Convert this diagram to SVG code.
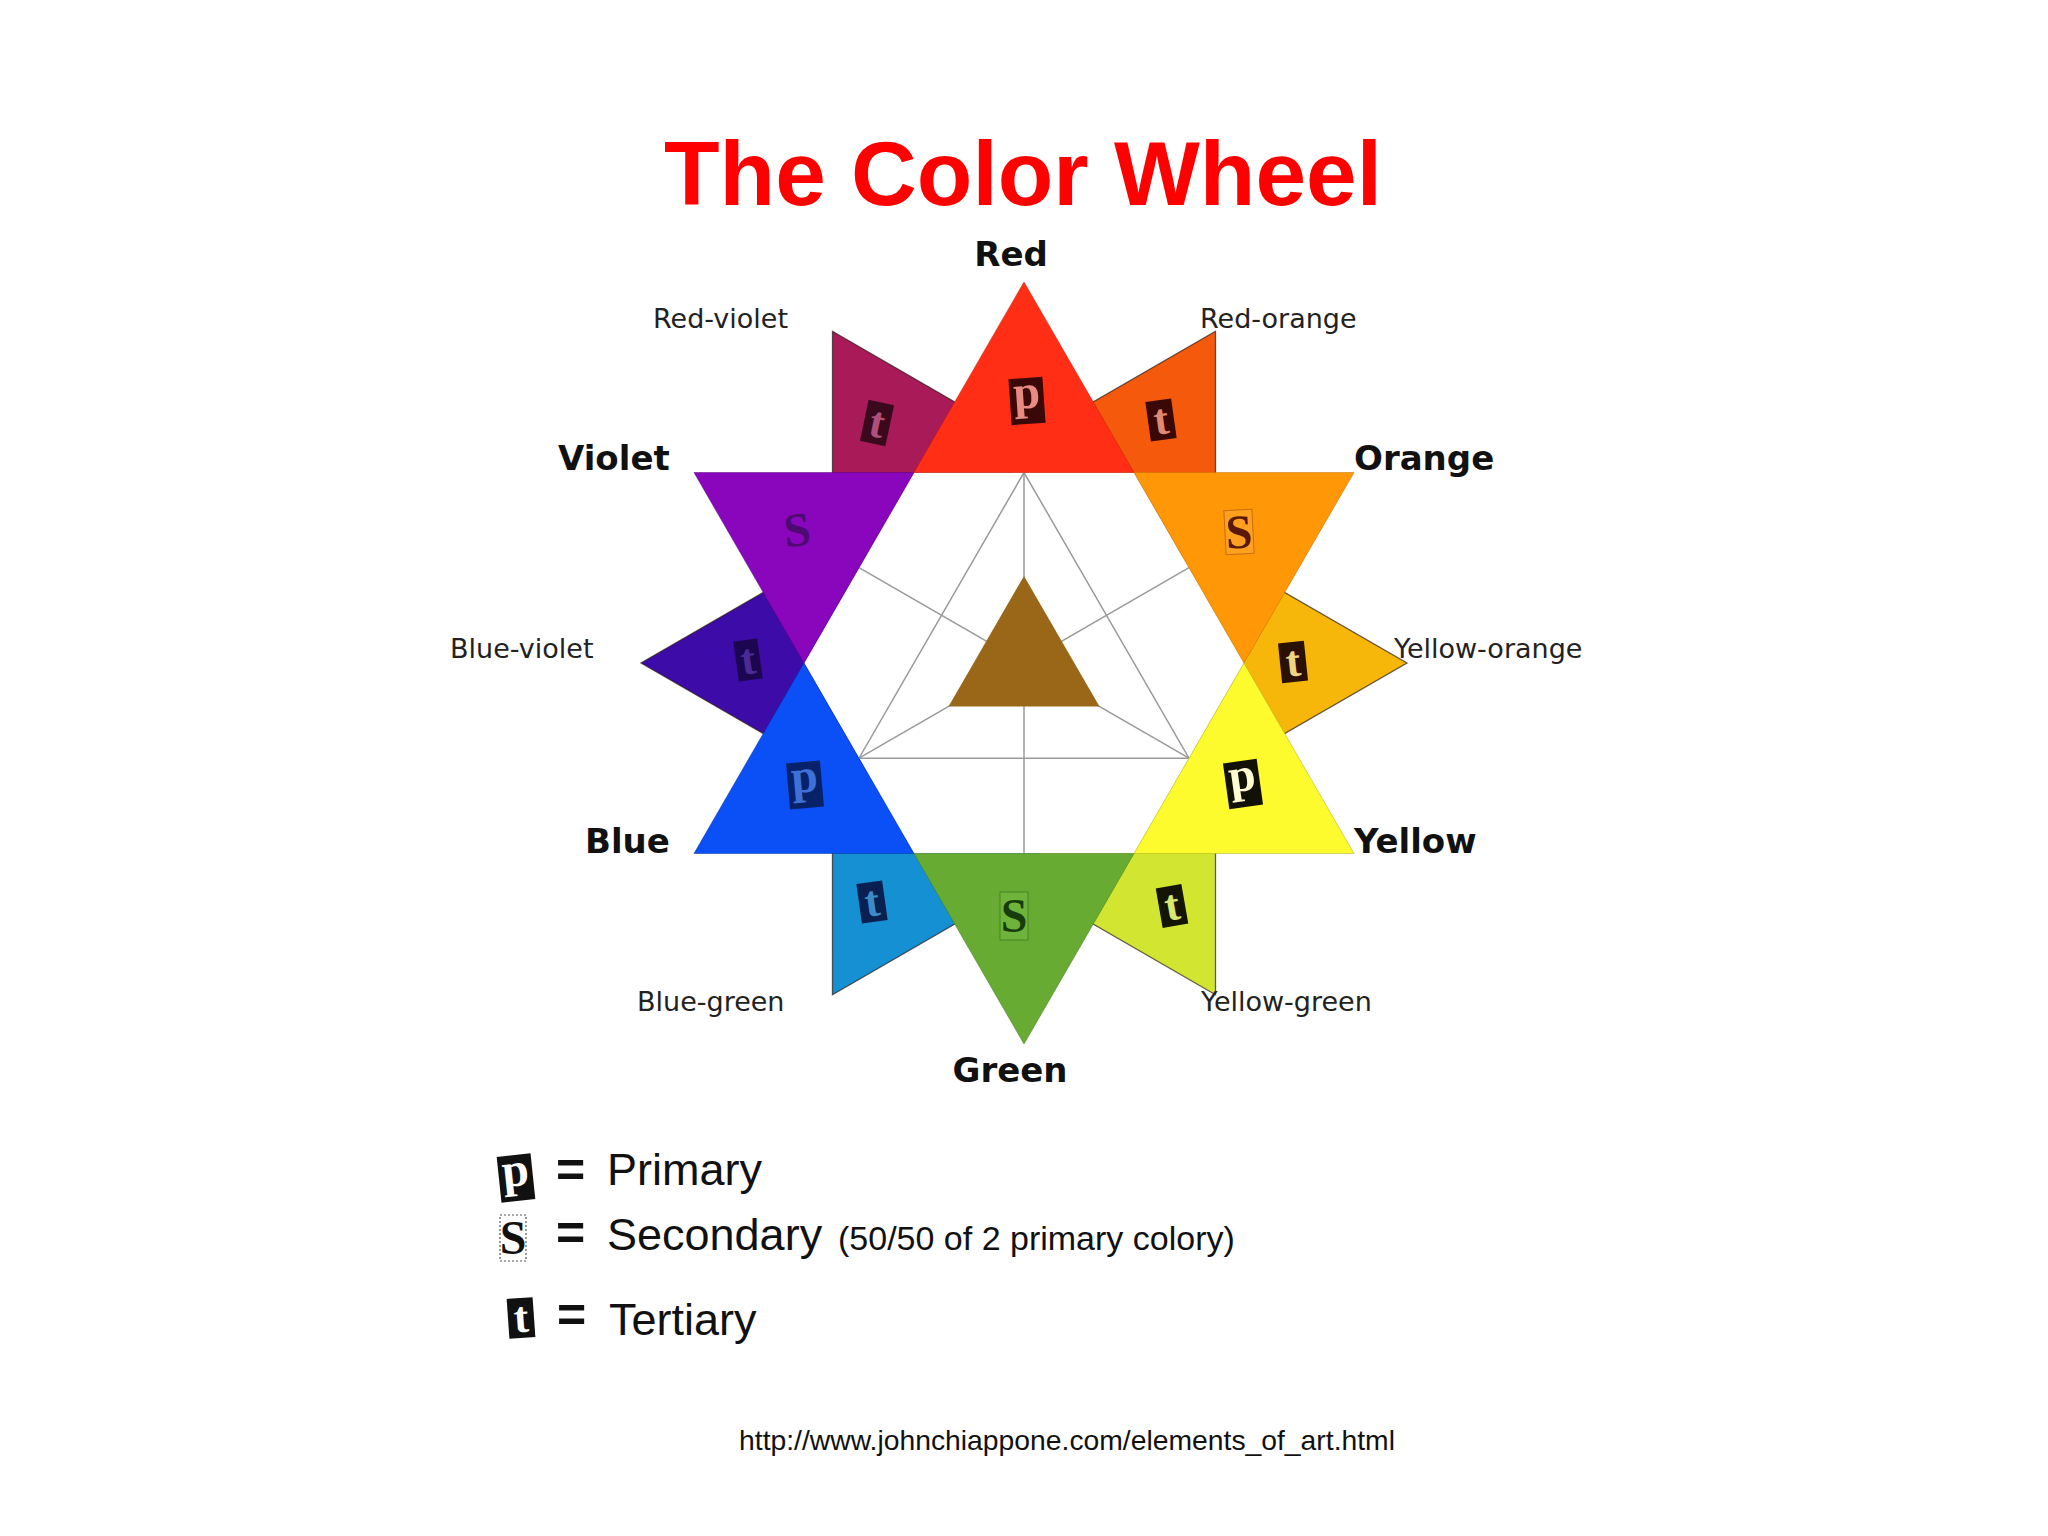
<svg xmlns="http://www.w3.org/2000/svg" xmlns:xlink="http://www.w3.org/1999/xlink" width="2048" height="1536" viewBox="0 0 2048 1536">
<style>
.title{font-family:"Liberation Sans",Arial,sans-serif;font-weight:bold;font-size:91px;fill:#ff0000;text-anchor:middle}
.lb{font-family:"DejaVu Sans",Verdana,sans-serif;font-weight:bold;font-size:34px;fill:#111}
.lr{font-family:"DejaVu Sans",Verdana,sans-serif;font-size:27px;fill:#222}
.tile{stroke:none}
.ltr{font-family:"Liberation Serif","Times New Roman",serif;font-weight:bold;text-anchor:middle}
.leg{font-family:"Liberation Sans",Arial,sans-serif;fill:#111}
.wedge{stroke:#2a1a1a;stroke-width:1.3;stroke-opacity:0.7}
.tri{stroke-width:1;stroke-opacity:0.5}
.grid{stroke:#9a9a9a;stroke-width:1.5;fill:none}
</style>
<defs>
<polygon id="wedge" points="832.5,331.3 832.5,591.3 1057.7,461.3"/>
</defs>
<rect width="2048" height="1536" fill="#ffffff"/>
<text class="title" x="1023" y="205">The Color Wheel</text>

<!-- tertiary colors -->
<g id="red-violet">
<use xlink:href="#wedge" class="wedge" fill="#a81a58"/>
<g transform="translate(877,423) rotate(12)"><rect class="tile" x="-13" y="-21" width="26" height="42" fill="#3a0a1c"/><text class="ltr" x="0" y="14" font-size="44" fill="#b0507a">t</text></g>
<text class="lr" x="653" y="328">Red-violet</text>
</g>
<g id="red-orange">
<use xlink:href="#wedge" class="wedge" fill="#f55a0c" transform="rotate(60 1024 663)"/>
<g transform="translate(1161,420) rotate(-8)"><rect class="tile" x="-13" y="-20" width="26" height="40" fill="#3a0806"/><text class="ltr" x="0" y="14" font-size="44" fill="#e08a70">t</text></g>
<text class="lr" x="1200" y="328">Red-orange</text>
</g>
<g id="yellow-orange">
<use xlink:href="#wedge" class="wedge" fill="#f6b70a" transform="rotate(120 1024 663)"/>
<g transform="translate(1293,662) rotate(-6)"><rect class="tile" x="-13" y="-20" width="26" height="40" fill="#2a1005"/><text class="ltr" x="0" y="14" font-size="44" fill="#f0d480">t</text></g>
<text class="lr" x="1394" y="658">Yellow-orange</text>
</g>
<g id="yellow-green">
<use xlink:href="#wedge" class="wedge" fill="#d2e631" transform="rotate(180 1024 663)"/>
<g transform="translate(1172,906) rotate(-10)"><rect class="tile" x="-13" y="-20" width="26" height="40" fill="#151505"/><text class="ltr" x="0" y="14" font-size="44" fill="#d8e870">t</text></g>
<text class="lr" x="1201" y="1011">Yellow-green</text>
</g>
<g id="blue-green">
<use xlink:href="#wedge" class="wedge" fill="#1590d2" transform="rotate(240 1024 663)"/>
<g transform="translate(872,902) rotate(-8)"><rect class="tile" x="-13" y="-20" width="26" height="40" fill="#0a2050"/><text class="ltr" x="0" y="14" font-size="44" fill="#3a8cc8">t</text></g>
<text class="lr" x="637" y="1011">Blue-green</text>
</g>
<g id="blue-violet">
<use xlink:href="#wedge" class="wedge" fill="#3c0ba8" transform="rotate(300 1024 663)"/>
<g transform="translate(748,660) rotate(-8)"><rect class="tile" x="-12" y="-20" width="24" height="40" fill="#1c0650"/><text class="ltr" x="0" y="14" font-size="44" fill="#4a2a98">t</text></g>
<text class="lr" x="450" y="658">Blue-violet</text>
</g>

<!-- center -->
<g id="center">
<polygon points="914,472.5 1134,472.5 1244,663 1134,853.5 914,853.5 804,663" fill="#ffffff"/>
<g class="grid">
<polygon points="1024,472.5 859,758.2 1189,758.2"/>
<line x1="1024" y1="472.5" x2="1024" y2="853.5"/>
<line x1="859" y1="567.7" x2="1189" y2="758.2"/>
<line x1="1189" y1="567.7" x2="859" y2="758.2"/>
</g>
<polygon points="1024,576 1099.5,706.5 948.5,706.5" fill="#9a6718"/>
</g>

<!-- primaries and secondaries -->
<g id="red">
<polygon class="tri" points="914,472.5 1134,472.5 1024,282" fill="#ff2e14" stroke="#c02010"/>
<g transform="translate(1027,401) rotate(-4)"><rect class="tile" x="-17" y="-23" width="34" height="46" fill="#3b0808"/><text class="ltr" x="0" y="7" font-size="48" fill="#e88a82">p</text></g>
<text class="lb" x="1011" y="266" text-anchor="middle">Red</text>
</g>
<g id="orange">
<polygon class="tri" points="1134,472.5 1354,472.5 1244,663" fill="#ff9707" stroke="#c07000"/>
<g transform="translate(1239,532) rotate(-3)"><rect x="-14" y="-22" width="28" height="44" fill="#ffa020" stroke="#a05010" stroke-width="1" stroke-opacity="0.6"/><text class="ltr" x="0" y="16" font-size="48" fill="#5a1a0a" font-weight="normal">S</text></g>
<text class="lb" x="1354" y="470">Orange</text>
</g>
<g id="yellow">
<polygon class="tri" points="1244,663 1354,853.5 1134,853.5" fill="#fdfb2e" stroke="#b0a820"/>
<g transform="translate(1243,784) rotate(-8)"><rect class="tile" x="-17" y="-23" width="34" height="46" fill="#111108"/><text class="ltr" x="0" y="7" font-size="48" fill="#fffbd0">p</text></g>
<text class="lb" x="1354" y="853">Yellow</text>
</g>
<g id="green">
<polygon class="tri" points="1134,853.5 914,853.5 1024,1044" fill="#67ab33" stroke="#3f7a20"/>
<g transform="translate(1014,916)"><rect x="-14" y="-24" width="28" height="48" fill="#6fb43a" stroke="#2a5a15" stroke-width="1" stroke-opacity="0.5"/><text class="ltr" x="0" y="16" font-size="48" fill="#173d0c" font-weight="normal">S</text></g>
<text class="lb" x="1010" y="1082" text-anchor="middle">Green</text>
</g>
<g id="blue">
<polygon class="tri" points="914,853.5 694,853.5 804,663" fill="#0b4ff6" stroke="#0630a0"/>
<g transform="translate(805,785) rotate(-5)"><rect class="tile" x="-17" y="-23" width="34" height="46" fill="#08226a"/><text class="ltr" x="0" y="7" font-size="48" fill="#3f70d8">p</text></g>
<text class="lb" x="585" y="853">Blue</text>
</g>
<g id="violet">
<polygon class="tri" points="804,663 694,472.5 914,472.5" fill="#8a06bc" stroke="#5a0480"/>
<g transform="translate(797,530) rotate(-6)"><text class="ltr" x="0" y="16" font-size="48" fill="#4d0a70" font-weight="normal">S</text></g>
<text class="lb" x="558" y="470">Violet</text>
</g>

<!-- legend -->
<g id="legend">
<g transform="translate(516,1178) rotate(-6)"><rect class="tile" x="-17" y="-23" width="34" height="46" fill="#111"/><text class="ltr" x="0" y="8" font-size="48" fill="#ffffff">p</text></g>
<text class="leg" x="556" y="1187" font-size="50" font-weight="bold">=</text>
<text class="leg" x="607" y="1185" font-size="45">Primary</text>
<g transform="translate(513,1238)"><rect x="-13" y="-23" width="26" height="46" fill="#ffffff" stroke="#555" stroke-width="1.2" stroke-dasharray="2 2"/><text class="ltr" x="0" y="16" font-size="48" fill="#111" font-weight="normal">S</text></g>
<text class="leg" x="556" y="1250" font-size="50" font-weight="bold">=</text>
<text class="leg" x="607" y="1250" font-size="45">Secondary</text>
<text class="leg" x="838" y="1250" font-size="34">(50/50 of 2 primary colory)</text>
<g transform="translate(521,1318) rotate(-4)"><rect class="tile" x="-13" y="-20" width="26" height="40" fill="#111"/><text class="ltr" x="0" y="14" font-size="44" fill="#ffffff">t</text></g>
<text class="leg" x="557" y="1332" font-size="50" font-weight="bold">=</text>
<text class="leg" x="609" y="1335" font-size="45">Tertiary</text>
</g>

<text class="leg" x="1067" y="1450" font-size="28.3" text-anchor="middle">http://www.johnchiappone.com/elements_of_art.html</text>
</svg>
